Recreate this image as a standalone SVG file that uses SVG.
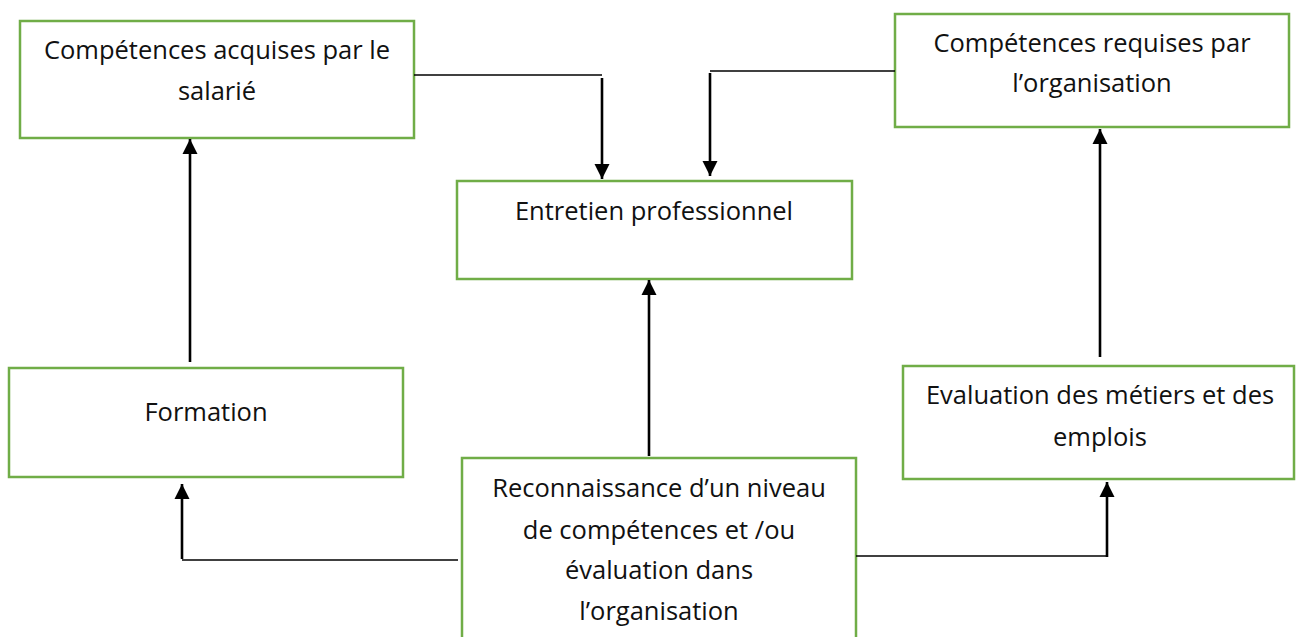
<svg xmlns="http://www.w3.org/2000/svg" width="1296" height="637" viewBox="0 0 1296 637">
  <style>
    .box { fill: #ffffff; stroke: #70AD47; stroke-width: 2.5; }
    .lbl { font-family: "Open Sans", "Liberation Sans", sans-serif; font-size: 25.5px; fill: #111111; text-anchor: middle; }
    .link { fill: none; stroke: #000000; stroke-width: 1.3; }
    .arrow { fill: none; stroke: #000000; stroke-width: 2.6; marker-end: url(#head); }
  </style>
  <defs>
    <marker id="head" markerUnits="userSpaceOnUse" markerWidth="16" markerHeight="16" refX="15" refY="8" orient="auto">
      <path d="M0,0.5 L15,8 L0,15.5 z" fill="#000000"/>
    </marker>
  </defs>
  <rect width="1296" height="637" fill="#ffffff"/>

  <g id="acquises">
    <rect class="box" x="20" y="21" width="394" height="117"/>
    <text class="lbl" x="217" y="59">Compétences acquises par le</text>
    <text class="lbl" x="217" y="100">salarié</text>
  </g>

  <g id="requises">
    <rect class="box" x="895" y="14" width="394" height="113"/>
    <text class="lbl" x="1092" y="52">Compétences requises par</text>
    <text class="lbl" x="1092" y="92">l’organisation</text>
  </g>

  <g id="entretien">
    <rect class="box" x="457" y="181" width="395" height="98"/>
    <text class="lbl" x="654" y="220">Entretien professionnel</text>
  </g>

  <g id="formation">
    <rect class="box" x="9" y="368" width="394" height="109"/>
    <text class="lbl" x="206" y="421">Formation</text>
  </g>

  <g id="evaluation">
    <rect class="box" x="903" y="366" width="391" height="113"/>
    <text class="lbl" x="1100" y="404">Evaluation des métiers et des</text>
    <text class="lbl" x="1100" y="446">emplois</text>
  </g>

  <g id="reconnaissance">
    <rect class="box" x="462" y="458" width="394" height="190"/>
    <text class="lbl" x="659" y="497">Reconnaissance d’un niveau</text>
    <text class="lbl" x="659" y="539">de compétences et /ou</text>
    <text class="lbl" x="659" y="579">évaluation dans</text>
    <text class="lbl" x="659" y="620">l’organisation</text>
  </g>

  <g id="connectors">
    <!-- acquired skills into the interview -->
    <polyline class="link" points="414,75 602,75"/>
    <line class="arrow" x1="602" y1="78" x2="602" y2="179"/>
    <!-- required skills into the interview -->
    <polyline class="link" points="895,71 710,71"/>
    <line class="arrow" x1="710" y1="73" x2="710" y2="176"/>
    <!-- training up to acquired skills -->
    <line class="arrow" x1="190" y1="362" x2="190" y2="139"/>
    <!-- job evaluation up to required skills -->
    <line class="arrow" x1="1100" y1="357" x2="1100" y2="129"/>
    <!-- recognition up to the interview -->
    <line class="arrow" x1="649" y1="456" x2="649" y2="280"/>
    <!-- recognition out to training -->
    <polyline class="link" points="458,560 182,560"/>
    <line class="arrow" x1="182" y1="559" x2="182" y2="484"/>
    <!-- recognition out to job evaluation -->
    <polyline class="link" points="856,556 1107,556"/>
    <line class="arrow" x1="1107" y1="557" x2="1107" y2="482"/>
  </g>
</svg>
